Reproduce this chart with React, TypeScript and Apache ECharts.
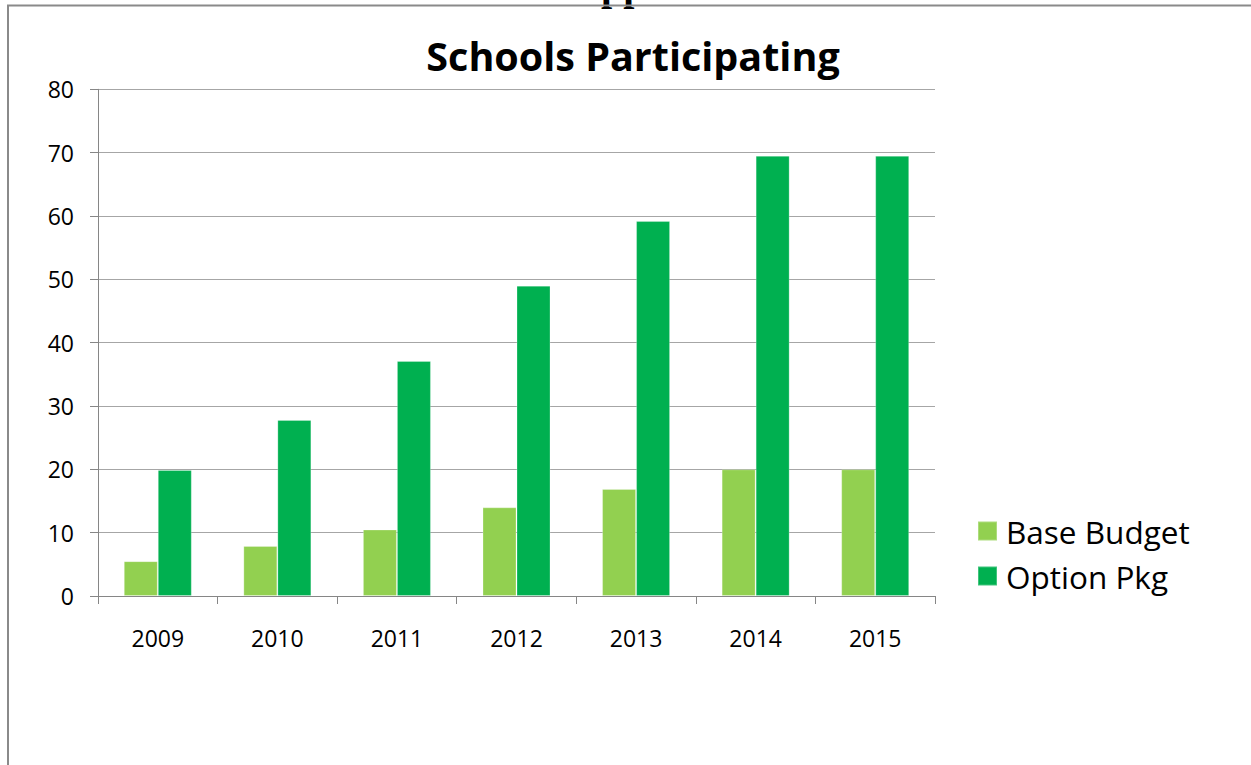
import React, { useEffect, useRef } from "react";
import * as echarts from "echarts";

const categories = ["2009", "2010", "2011", "2012", "2013", "2014", "2015"];
const baseBudget = [5.5, 7.9, 10.5, 14, 16.9, 20, 20];
const optionPkg = [19.9, 27.8, 37.1, 49, 59.2, 69.5, 69.5];
const seriesNames = ["Base Budget", "Option Pkg"];
const yTicks = { min: 0, max: 80, interval: 10 };

const FONT = "'Open Sans', 'Noto Sans', sans-serif";

export default function App() {
  const ref = useRef<HTMLDivElement>(null);
  useEffect(() => {
    document.body.style.margin = "0";
    const chart = echarts.init(ref.current!, null, { renderer: "svg" });
    chart.setOption({
      animation: false,
      backgroundColor: "#ffffff",
      title: {
        text: "Schools Participating",
        left: 628,
        top: 51,
        textAlign: "center",
        textVerticalAlign: "middle",
        textStyle: { fontFamily: FONT, fontWeight: "bold", fontSize: 39.5, color: "#000000" },
      },
      legend: {
        orient: "vertical",
        left: 977,
        top: 515,
        padding: 0,
        itemWidth: 19,
        itemHeight: 19,
        itemGap: 13,
        icon: "rect",
        data: seriesNames,
        textStyle: { fontFamily: FONT, fontSize: 31.5, color: "#000000", lineHeight: 30, padding: [0, 0, 0, 4] },
      },
      grid: { left: 98, right: 316, top: 89.3, bottom: 169, containLabel: false },
      xAxis: {
        type: "category",
        data: categories,
        axisLine: { show: true, lineStyle: { color: "#868686", width: 1 } },
        axisTick: { show: true, length: 8, alignWithLabel: false, lineStyle: { color: "#868686" } },
        axisLabel: { fontFamily: FONT, fontSize: 23, color: "#000000", margin: 30 },
      },
      yAxis: {
        type: "value",
        min: yTicks.min,
        max: yTicks.max,
        interval: yTicks.interval,
        axisLine: { show: true, lineStyle: { color: "#868686", width: 1 } },
        axisTick: { show: true, length: 8, lineStyle: { color: "#868686" } },
        axisLabel: { fontFamily: FONT, fontSize: 23, color: "#000000", margin: 24 },
        splitLine: { show: true, lineStyle: { color: "#A6A6A6", width: 1.2 } },
      },
      series: [
        {
          name: seriesNames[0],
          type: "bar",
          data: baseBudget,
          barWidth: 34,
          barGap: "0%",
          itemStyle: { color: "#92D050", borderColor: "rgba(255,255,255,0.25)", borderWidth: 1 },
        },
        {
          name: seriesNames[1],
          type: "bar",
          data: optionPkg,
          barWidth: 34,
          barGap: "0%",
          itemStyle: { color: "#00B050", borderColor: "rgba(255,255,255,0.25)", borderWidth: 1 },
        },
      ],
      graphic: [
        {
          type: "text",
          left: 601,
          top: -34,
          style: {
            text: "pp",
            fontFamily: "'Liberation Serif', serif",
            fontWeight: "bold",
            fontSize: 40,
            fill: "#000000",
          },
          z: 1,
        },
        {
          type: "line",
          shape: { x1: 7, y1: 5.5, x2: 1251, y2: 5.5 },
          style: { stroke: "#8a8a8a", lineWidth: 2 },
          z: 10,
        },
        {
          type: "line",
          shape: { x1: 8, y1: 5, x2: 8, y2: 765 },
          style: { stroke: "#8a8a8a", lineWidth: 2 },
          z: 10,
        },
      ],
    });
    return () => chart.dispose();
  }, []);
  return <div ref={ref} style={{ width: 1251, height: 765 }} />;
}
